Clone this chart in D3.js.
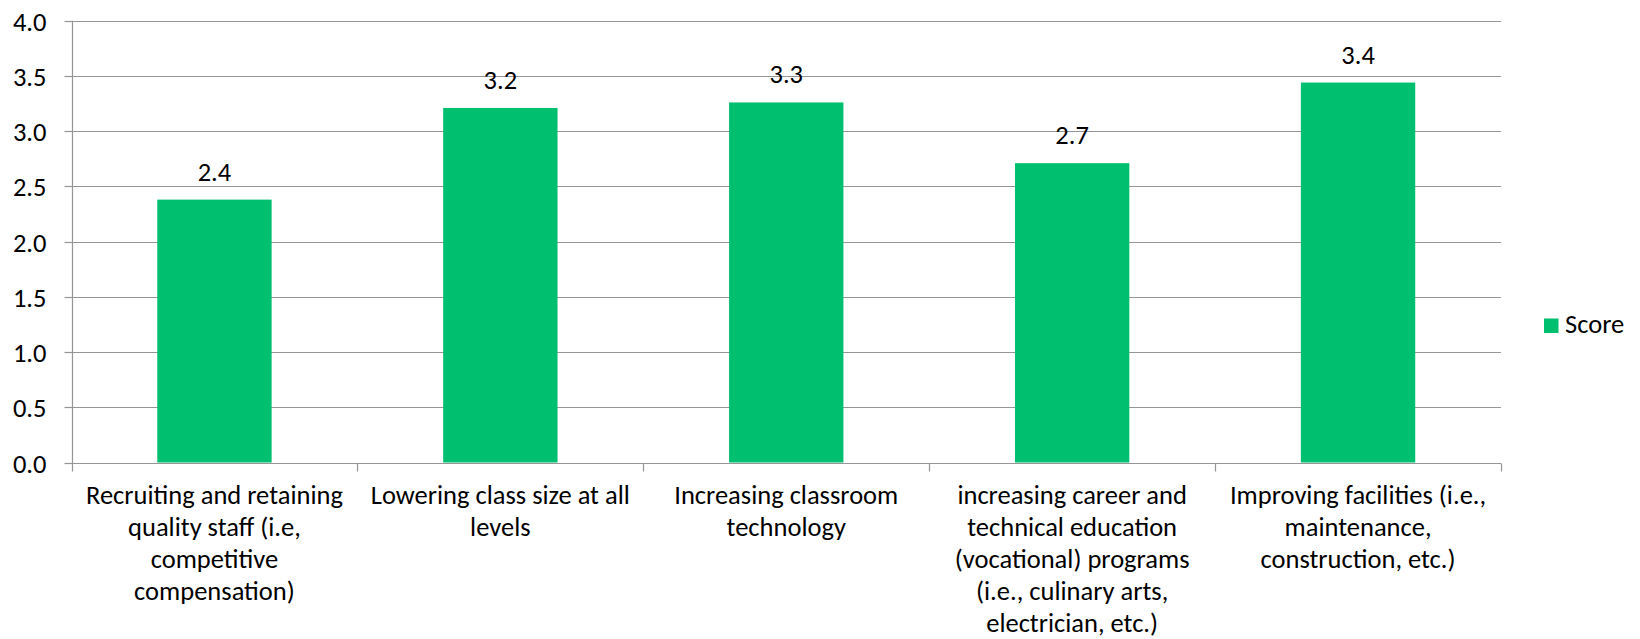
<!DOCTYPE html>
<html><head><meta charset="utf-8">
<script src="https://cdn.jsdelivr.net/npm/d3@7"></script>
<style>body{margin:0;background:#fff;} svg{display:block;}</style>
</head><body><svg id="c" width="1640" height="639"></svg>
<script>
const categories = [
  "Recruiting and retaining\nquality staff (i.e,\ncompetitive\ncompensation)",
  "Lowering class size at all\nlevels",
  "Increasing classroom\ntechnology",
  "increasing career and\ntechnical education\n(vocational) programs\n(i.e., culinary arts,\nelectrician, etc.)",
  "Improving facilities (i.e.,\nmaintenance,\nconstruction, etc.)"
];
const scores = [2.38, 3.21, 3.26, 2.71, 3.44];
const yTicks = [0, 0.5, 1.0, 1.5, 2.0, 2.5, 3.0, 3.5, 4.0];
const seriesName = "Score";

const W = 1640, H = 639;
const m = {left: 71.5, right: 1501, top: 20.7, bottom: 462.5};
const barColor = "#00BF6F";
const gridColor = "#969696";
const fontFam = "Carlito, Lato, 'Open Sans', sans-serif";

const svg = d3.select("#c");

// Fit font size so text widths approximate the reference (Calibri 20pt)
const probe = svg.append("text").attr("font-family", fontFam).attr("font-size", 100)
  .text("Recruiting and retaining");
const probeW = probe.node().getComputedTextLength();
probe.remove();
const fs = Math.min(26.67, 100 * 257 / probeW);

const x = d3.scaleBand().domain(d3.range(categories.length))
  .range([m.left, m.right]).paddingInner(0.6).paddingOuter(0.3);
const y = d3.scaleLinear().domain([0, 4]).range([m.bottom, m.top]);

// gridlines
svg.append("g").selectAll("line").data(yTicks).join("line")
  .attr("x1", m.left).attr("x2", m.right)
  .attr("y1", d => Math.round(y(d)) + 0.5).attr("y2", d => Math.round(y(d)) + 0.5)
  .attr("stroke", gridColor).attr("stroke-width", 1.2);

// bars
svg.append("g").selectAll("rect").data(scores).join("rect")
  .attr("x", (d, i) => x(i)).attr("width", x.bandwidth())
  .attr("y", d => y(d)).attr("height", d => y(0) - y(d))
  .attr("fill", barColor);

// data labels
const fmt = d3.format(".1f");
svg.append("g").selectAll("text").data(scores).join("text")
  .attr("x", (d, i) => x(i) + x.bandwidth() / 2)
  .attr("y", d => y(d) - 19)
  .attr("text-anchor", "middle")
  .attr("font-family", fontFam).attr("font-size", fs).attr("fill", "#000")
  .text(d => fmt(d));

// y axis
const yAxis = d3.axisLeft(y).tickValues(yTicks).tickSize(8).tickPadding(18)
  .tickFormat(d3.format(".1f"));
const gy = svg.append("g").attr("transform", `translate(${Math.round(m.left) + 0.5},0)`).call(yAxis);
gy.select(".domain").remove();
gy.selectAll(".tick line").attr("stroke", gridColor).attr("stroke-width", 1.2);
gy.selectAll(".tick text").attr("font-family", fontFam).attr("font-size", fs)
  .attr("fill", "#000").attr("dy", "0.34em");
gy.selectAll(".tick").attr("transform", d => `translate(0,${Math.round(y(d)) + 0.5})`);
svg.append("line").attr("x1", Math.round(m.left) + 0.5).attr("x2", Math.round(m.left) + 0.5)
  .attr("y1", m.top).attr("y2", m.bottom + 9).attr("stroke", gridColor).attr("stroke-width", 1.2);

// x axis boundary ticks
const bounds = d3.range(categories.length + 1).map(i => m.left + i * (m.right - m.left) / categories.length);
svg.append("g").selectAll("line").data(bounds.slice(1)).join("line")
  .attr("x1", d => Math.round(d) + 0.5).attr("x2", d => Math.round(d) + 0.5)
  .attr("y1", Math.round(y(0)) + 0.5).attr("y2", Math.round(y(0)) + 8.5)
  .attr("stroke", gridColor).attr("stroke-width", 1.2);

// category labels
const lineH = 32;
const gl = svg.append("g");
categories.forEach((c, i) => {
  const t = gl.append("text")
    .attr("text-anchor", "middle")
    .attr("font-family", fontFam).attr("font-size", fs).attr("fill", "#000");
  c.split("\n").forEach((ln, j) => {
    t.append("tspan").attr("x", x(i) + x.bandwidth() / 2).attr("y", 504 + j * lineH).text(ln);
  });
});

// legend
const lg = svg.append("g");
lg.append("rect").attr("x", 1544).attr("y", 318.5).attr("width", 14.5).attr("height", 14.5).attr("fill", barColor);
lg.append("text").attr("x", 1565).attr("y", 333.3)
  .attr("font-family", fontFam).attr("font-size", fs).attr("fill", "#000").text(seriesName);
</script>
</body></html>
